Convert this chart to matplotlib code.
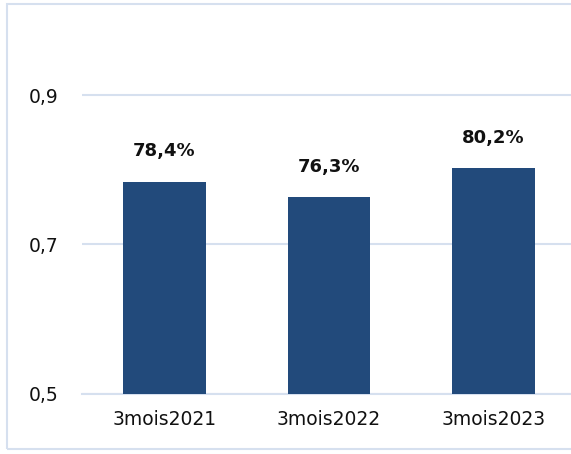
import matplotlib.pyplot as plt
from matplotlib.patches import Rectangle

categories = ['3mois2021', '3mois2022', '3mois2023']
valeurs = [0.784, 0.763, 0.802]
etiquettes = ['78,4%', '76,3%', '80,2%']
yticks = [0.5, 0.7, 0.9]
ytick_labels = ['0,5', '0,7', '0,9']

W, H = 571, 454
fig = plt.figure(figsize=(W / 100, H / 100), dpi=100)

# cadre du graphique
fig.patches.append(Rectangle((7 / W, 1 - 449 / H), 1, (449 - 4) / H,
                             transform=fig.transFigure, fill=False,
                             edgecolor='#d6e0ef', linewidth=1.5))

ax = fig.add_axes([82 / W, (H - 393.5) / H, (W - 82) / W + 0.01, 373.1 / H])
ax.set_xlim(-0.5015, 2.506)
ax.set_ylim(0.5, 1.0)

ax.bar(range(len(categories)), valeurs, bottom=0, width=0.5, color='#224a7b', zorder=3)

for i, (v, t) in enumerate(zip(valeurs, etiquettes)):
    ax.annotate(t, (i, v), xytext=(0, 22), textcoords='offset points',
                ha='center', va='center', fontsize=13, fontweight='bold', color='#111111')

ax.set_yticks(yticks)
ax.set_yticklabels(ytick_labels)
ax.set_xticks(range(len(categories)))
ax.set_xticklabels(categories)
ax.tick_params(axis='both', length=0, labelsize=13.5, colors='#111111')
ax.tick_params(axis='y', pad=17)
ax.tick_params(axis='x', pad=12)

ax.grid(axis='y', color='#d6e0ef', linewidth=1.5, zorder=0)
for s in ['top', 'right', 'left']:
    ax.spines[s].set_visible(False)
ax.spines['bottom'].set_color('#d6e0ef')
ax.spines['bottom'].set_linewidth(1.5)

fig.savefig('out.png', dpi=100)
